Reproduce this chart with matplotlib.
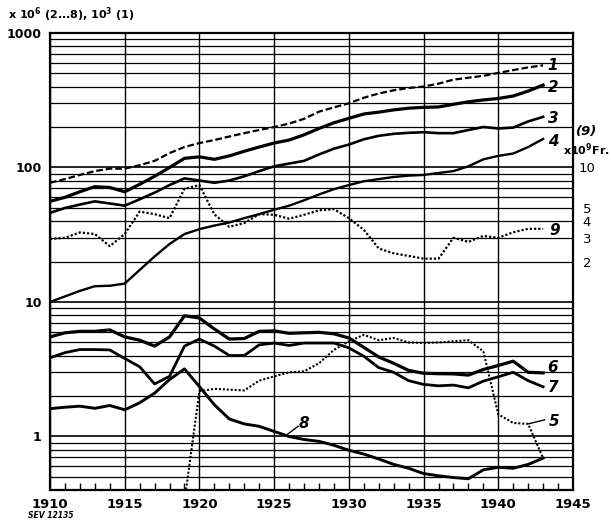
import numpy as np
import matplotlib
matplotlib.use("Agg")
import matplotlib.pyplot as plt
from matplotlib.ticker import LogLocator, NullFormatter, FixedLocator, MultipleLocator

# ---------------- data ----------------
years = np.arange(1910, 1944)
s1 = [77, 82, 88, 94, 98, 98, 104, 112, 128, 142, 152, 160, 170, 180, 190, 200, 212, 230,
      260, 280, 300, 330, 355, 375, 390, 400, 420, 450, 465, 480, 505, 530, 555, 575]
s2 = [56, 60, 66, 72, 71, 66, 75, 86, 100, 117, 120, 115, 122, 132, 142, 152, 160, 175,
      195, 215, 232, 250, 258, 268, 276, 280, 282, 295, 308, 318, 326, 340, 370, 410]
s3 = [46, 50, 53, 56, 54, 52, 58, 65, 74, 83, 80, 77, 80, 86, 94, 102, 107, 112,
      125, 138, 148, 162, 172, 178, 181, 183, 180, 180, 190, 200, 195, 198, 220, 238]
s4 = [10, 11, 12.1, 13.1, 13.2, 13.7, 17.3, 21.8, 27, 32, 34.8, 37, 39, 42, 45, 48.5, 52, 57,
      63, 69, 74, 79, 82, 85, 87, 88, 91, 94, 102, 115, 122, 127, 142, 163]
# series 9 in 10^9 Fr.
s9 = [2.94, 3.0, 3.29, 3.2, 2.6, 3.2, 4.7, 4.5, 4.2, 6.95, 7.4, 4.48, 3.62, 3.86, 4.5, 4.45, 4.16, 4.45,
      4.8, 4.9, 4.2, 3.44, 2.5, 2.3, 2.2, 2.1, 2.1, 3.0, 2.8, 3.1, 3.0, 3.3, 3.5, 3.5]
s6 = [5.5, 5.9, 6.05, 6.05, 6.2, 5.5, 5.2, 4.7, 5.5, 7.9, 7.6, 6.3, 5.3, 5.35, 6.05, 6.1, 5.85, 5.9,
      5.95, 5.8, 5.4, 4.6, 3.9, 3.5, 3.1, 2.95, 2.93, 2.92, 2.86, 3.15, 3.37, 3.63, 3.0, 2.97]
s7 = [3.85, 4.2, 4.43, 4.43, 4.4, 3.8, 3.3, 2.46, 2.8, 4.7, 5.3, 4.7, 4.0, 4.0, 4.8, 4.95, 4.75, 4.95,
      4.95, 4.95, 4.56, 3.95, 3.25, 3.0, 2.6, 2.44, 2.38, 2.41, 2.3, 2.58, 2.78, 3.0, 2.6, 2.34]
s8 = [1.61, 1.65, 1.68, 1.62, 1.7, 1.58, 1.78, 2.1, 2.65, 3.18, 2.35, 1.72, 1.35, 1.24, 1.19, 1.09, 1.0, 0.95,
      0.92, 0.86, 0.79, 0.74, 0.68, 0.62, 0.58, 0.53, 0.51, 0.495, 0.485, 0.565, 0.59, 0.58, 0.62, 0.69]
years5 = np.arange(1919, 1944)
s5 = [0.33, 2.17, 2.26, 2.23, 2.2, 2.6, 2.8, 3.0, 3.05, 3.5, 4.4, 5.1, 5.7, 5.2, 5.4, 5.0, 4.96, 5.0,
      5.1, 5.2, 4.3, 1.46, 1.26, 1.24, 0.69]

xticks = [1910, 1915, 1920, 1925, 1930, 1935, 1940, 1945]
yticks = [1, 10, 100, 1000]
yticklabels = ["1", "10", "100", "1000"]
y2ticks = [2, 3, 4, 5, 10]
y2labels = ["2", "3", "4", "5", "10"]

# ---------------- figure ----------------
W, H = 611, 521
fig = plt.figure(figsize=(W / 100, H / 100), dpi=100)
ax = fig.add_axes([50 / W, 1 - 490 / H, 523 / W, 457 / H])
ax.set_yscale("log")
ax.set_xlim(1910, 1945)
ax.set_ylim(0.4, 1000)

# grid
ax.set_yticks(yticks, labels=yticklabels)
ax.yaxis.set_minor_locator(LogLocator(base=10, subs=np.arange(2, 10)))
ax.yaxis.set_minor_formatter(NullFormatter())
ax.grid(True, which="major", axis="y", color="black", lw=1.2)
ax.grid(True, which="minor", axis="y", color="black", lw=0.9)
ax.set_xticks(xticks)
ax.xaxis.set_minor_locator(MultipleLocator(1))
ax.grid(True, which="major", axis="x", color="black", lw=1.0)
ax.tick_params(axis="y", which="both", length=0, pad=6, labelsize=9)
ax.tick_params(axis="x", which="major", length=0, pad=6, labelsize=9.5)
ax.tick_params(axis="x", which="minor", direction="in", length=5, width=1, top=False)
for lbl in ax.get_yticklabels() + ax.get_xticklabels():
    lbl.set_fontweight("bold")
for sp in ax.spines.values():
    sp.set_linewidth(1.6)
ax.set_axisbelow(True)

# series
k = "black"
ax.plot(years, s1, color=k, lw=1.6, dashes=(3, 1.3), clip_on=False)
ax.plot(years, s2, color=k, lw=2.3, solid_joinstyle="round")
ax.plot(years, s3, color=k, lw=1.9, solid_joinstyle="round")
ax.plot(years, s4, color=k, lw=1.7, solid_joinstyle="round")
ax.plot(years, np.array(s9) * 10, color=k, lw=1.6, dashes=(1, 0.9))
ax.plot(years, s6, color=k, lw=2.3, solid_joinstyle="round")
ax.plot(years, s7, color=k, lw=2.0, solid_joinstyle="round")
ax.plot(years, s8, color=k, lw=2.1, solid_joinstyle="round")
ax.plot(years5, s5, color=k, lw=1.5, dashes=(1, 0.9))

# series labels
lab = dict(fontsize=11, fontweight="bold", fontstyle="italic", va="center", ha="left")
ax.text(1943.3, 570, "1", **lab)
ax.text(1943.3, 395, "2", **lab)
ax.text(1943.3, 233, "3", **lab)
ax.text(1943.3, 156, "4", **lab)
ax.text(1943.4, 34, "9", **lab)
ax.text(1943.3, 3.25, "6", **lab)
ax.text(1943.3, 2.3, "7", **lab)
ax.text(1943.35, 1.3, "5", **lab)
ax.plot([1942.0, 1943.1], [1.24, 1.33], color=k, lw=1.0)
ax.text(1926.65, 1.24, "8", **lab)
ax.plot([1925.9, 1926.6], [1.04, 1.19], color=k, lw=1.0)

# secondary scale for series 9
ax2 = ax.twinx()
ax2.set_yscale("log")
ax2.set_ylim(0.04, 100)
ax2.set_yticks(y2ticks, labels=y2labels)
ax2.yaxis.set_minor_locator(FixedLocator([]))
ax2.tick_params(axis="y", which="both", length=0, pad=10, labelsize=9.5)
for lbl in ax2.get_yticklabels():
    lbl.set_ha("center")
for sp in ax2.spines.values():
    sp.set_visible(False)

fig.text(587 / W, 1 - 132 / H, "(9)", fontsize=9.5, fontweight="bold", fontstyle="italic",
         ha="center", va="center")
fig.text(610 / W, 1 - 150 / H, "x10$^{\\mathbf{9}}$Fr.", fontsize=8, fontweight="bold",
         ha="right", va="center")
fig.text(8 / W, 1 - 15 / H, "x 10$^{\\mathbf{6}}$ (2...8), 10$^{\\mathbf{3}}$ (1)", fontsize=8,
         fontweight="bold", ha="left", va="center")
fig.text(28 / W, 1 - 515 / H, "SEV 12135", fontsize=5.5, fontweight="bold", fontstyle="italic",
         ha="left", va="center")

fig.savefig("out.png", dpi=100)
